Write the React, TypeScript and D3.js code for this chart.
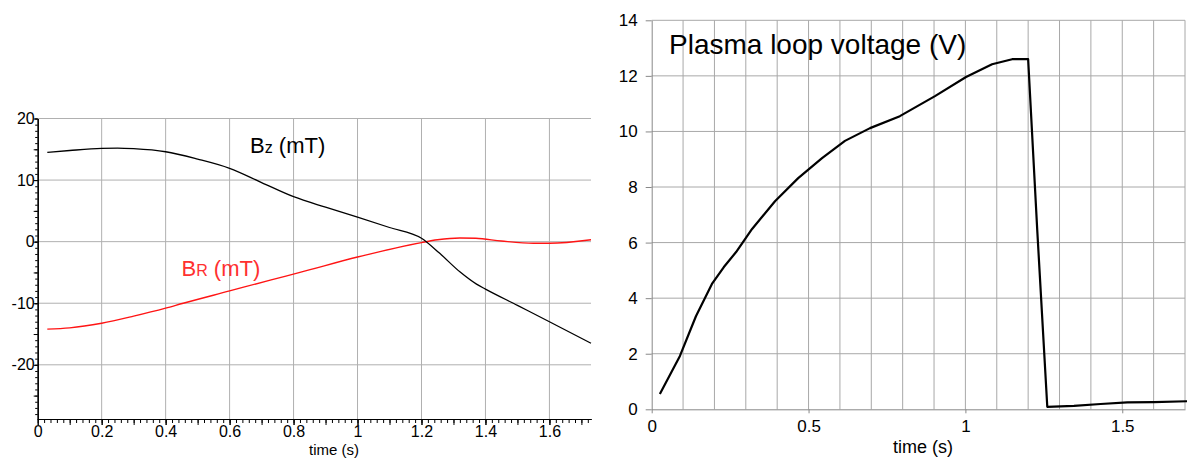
import React, { useEffect, useRef } from 'react';
import * as d3 from 'd3';

const W = 1187;
const H = 459;
const FONT = '"Liberation Sans", Arial, sans-serif';

// left panel: poloidal fields (mT) vs time (s)
const bzTime = [0.03, 0.1, 0.2, 0.25, 0.3, 0.4, 0.5, 0.6, 0.7, 0.8, 0.9, 1.0, 1.1, 1.2, 1.257, 1.32, 1.372, 1.4, 1.5, 1.6, 1.73];
const bzVal = [14.5, 14.8, 15.15, 15.2, 15.1, 14.6, 13.4, 11.9, 9.6, 7.3, 5.6, 4.0, 2.3, 0.55, -1.9, -4.9, -6.9, -7.7, -10.35, -13.0, -16.5];
const brTime = [0.03, 0.1, 0.2, 0.3, 0.4, 0.455, 0.6, 0.73, 0.82, 1.0, 1.2, 1.25, 1.32, 1.37, 1.45, 1.55, 1.6, 1.73];
const brVal = [-14.2, -14.0, -13.25, -12.1, -10.8, -10.0, -8.0, -6.2, -5.0, -2.5, -0.15, 0.3, 0.6, 0.55, 0.1, -0.27, -0.27, 0.3];
const leftXTicks = [0, 0.2, 0.4, 0.6, 0.8, 1, 1.2, 1.4, 1.6];
const leftYTicks = [-20, -10, 0, 10, 20];

// right panel: plasma loop voltage (V) vs time (s)
const vTime = [0.026, 0.09, 0.141, 0.192, 0.23, 0.269, 0.32, 0.393, 0.467, 0.543, 0.616, 0.696, 0.791, 0.903, 1.002, 1.085, 1.149, 1.2, 1.229, 1.261, 1.346, 1.431, 1.516, 1.601, 1.707];
const vVal = [0.55, 1.92, 3.35, 4.51, 5.12, 5.66, 6.49, 7.49, 8.32, 9.04, 9.66, 10.12, 10.55, 11.27, 11.96, 12.42, 12.6, 12.6, 6.45, 0.09, 0.12, 0.19, 0.25, 0.26, 0.29];
const rightXTicks = [0, 0.5, 1, 1.5];
const rightYTicks = [0, 2, 4, 6, 8, 10, 12, 14];

const fmt = (d: number) => String(+d.toFixed(1));

const App = () => {
    const ref = useRef<SVGSVGElement>(null);

    useEffect(() => {
        const svg = d3.select(ref.current);
        svg.selectAll('*').remove();

        // ---------- left chart ----------
        const x1 = d3.scaleLinear().domain([0, 1.73]).range([37.7, 591]);
        const y1 = d3.scaleLinear().domain([-28.8, 20]).range([419, 118.5]);
        const L = svg.append('g');
        const gridL = '#b0b0b0';

        L.append('g').selectAll('line')
            .data(leftXTicks.filter(d => d > 0))
            .join('line')
            .attr('x1', d => x1(d)).attr('x2', d => x1(d))
            .attr('y1', y1(20)).attr('y2', y1(-28.8))
            .attr('stroke', gridL).attr('stroke-width', 1);
        L.append('g').selectAll('line')
            .data(leftYTicks)
            .join('line')
            .attr('x1', x1(0)).attr('x2', x1(1.73))
            .attr('y1', d => y1(d)).attr('y2', d => y1(d))
            .attr('stroke', gridL).attr('stroke-width', 1);

        // x axis, minor / mid / major ticks
        const xMinor = d3.range(0, 1.7301, 0.02).map(d => +d.toFixed(2));
        const xMid = d3.range(0, 1.7301, 0.1).map(d => +d.toFixed(1));
        const xa = (vals: number[], size: number, label: boolean) => {
            const g = L.append('g').attr('transform', `translate(0,${y1(-28.8)})`)
                .call(d3.axisBottom(x1).tickValues(vals).tickSize(size).tickSizeOuter(0)
                    .tickFormat(label ? (d => fmt(+d)) : () => ''));
            g.selectAll('line').attr('stroke', '#000');
            g.select('.domain').attr('stroke', '#000');
            g.selectAll('text').attr('fill', '#000').attr('font-family', FONT)
                .attr('font-size', 16).attr('y', 7).attr('dy', '0.71em');
        };
        xa(xMinor, 4, false);
        xa(xMid, 6, false);
        xa(leftXTicks, 6, true);

        const yMinor = d3.range(-28, 20.01, 1);
        const yMid = d3.range(-25, 20.01, 5);
        const ya = (vals: number[], size: number, label: boolean) => {
            const g = L.append('g').attr('transform', `translate(${x1(0)},0)`)
                .call(d3.axisLeft(y1).tickValues(vals).tickSize(size).tickSizeOuter(0)
                    .tickFormat(label ? (d => fmt(+d)) : () => ''));
            g.selectAll('line').attr('stroke', '#000');
            g.select('.domain').attr('stroke', '#000');
            g.selectAll('text').attr('fill', '#000').attr('font-family', FONT)
                .attr('font-size', 16).attr('x', -3);
        };
        ya(yMinor, 2.5, false);
        ya(yMid, 4, false);
        ya(leftYTicks, 3, true);

        const line1 = d3.line<[number, number]>()
            .x(d => x1(d[0])).y(d => y1(d[1]))
            .curve(d3.curveMonotoneX);
        L.append('path')
            .datum(d3.zip(brTime, brVal) as [number, number][])
            .attr('d', line1).attr('fill', 'none')
            .attr('stroke', '#ff1414').attr('stroke-width', 1.4);
        L.append('path')
            .datum(d3.zip(bzTime, bzVal) as [number, number][])
            .attr('d', line1).attr('fill', 'none')
            .attr('stroke', '#000').attr('stroke-width', 1.3);

        const bz = L.append('text').attr('x', 250).attr('y', 153)
            .attr('font-family', FONT).attr('font-size', 22).attr('fill', '#000');
        bz.append('tspan').text('B');
        bz.append('tspan').attr('font-size', 16).text('z');
        bz.append('tspan').text(' (mT)');

        const br = L.append('text').attr('x', 181.5).attr('y', 276)
            .attr('font-family', FONT).attr('font-size', 22).attr('fill', '#ff3030');
        br.append('tspan').text('B');
        br.append('tspan').attr('font-size', 16).text('R');
        br.append('tspan').text(' (mT)');

        L.append('text').attr('x', 334).attr('y', 455)
            .attr('text-anchor', 'middle')
            .attr('font-family', FONT).attr('font-size', 15).text('time (s)');

        // ---------- right chart ----------
        const x2 = d3.scaleLinear().domain([0, 1.7]).range([651.7, 1185]);
        const y2 = d3.scaleLinear().domain([0, 14]).range([409.3, 20.3]);
        const R = svg.append('g');
        const gridR = '#a8a8a8';

        R.append('g').selectAll('line')
            .data(d3.range(1, 18).map(i => i / 10))
            .join('line')
            .attr('x1', d => x2(d)).attr('x2', d => x2(d))
            .attr('y1', y2(14)).attr('y2', y2(0))
            .attr('stroke', gridR).attr('stroke-width', 1);
        R.append('g').selectAll('line')
            .data(rightYTicks.filter(d => d > 0))
            .join('line')
            .attr('x1', x2(0)).attr('x2', x2(1.7))
            .attr('y1', d => y2(d)).attr('y2', d => y2(d))
            .attr('stroke', gridR).attr('stroke-width', 1);

        const gx = R.append('g').attr('transform', `translate(0,${y2(0)})`)
            .call(d3.axisBottom(x2).tickValues(rightXTicks).tickSize(4).tickSizeOuter(0).tickFormat(d => fmt(+d)));
        gx.selectAll('line').attr('stroke', '#888');
        gx.select('.domain').attr('stroke', '#888');
        gx.selectAll('text').attr('fill', '#000').attr('font-family', FONT)
            .attr('font-size', 17).attr('y', 11).attr('dy', '0.71em');

        const gy = R.append('g').attr('transform', `translate(${x2(0)},0)`)
            .call(d3.axisLeft(y2).tickValues(rightYTicks).tickSize(6).tickSizeOuter(0).tickFormat(d => fmt(+d)));
        gy.selectAll('line').attr('stroke', '#888');
        gy.select('.domain').attr('stroke', '#888');
        gy.selectAll('text').attr('fill', '#000').attr('font-family', FONT)
            .attr('font-size', 17).attr('x', -14);

        // sampled signal: straight segments between samples
        const line2 = d3.line<[number, number]>()
            .x(d => x2(d[0])).y(d => y2(d[1]));
        R.append('path')
            .datum(d3.zip(vTime, vVal) as [number, number][])
            .attr('d', line2).attr('fill', 'none')
            .attr('stroke', '#000').attr('stroke-width', 2.2)
            .attr('stroke-linejoin', 'round');

        R.append('text').attr('x', 669).attr('y', 54)
            .attr('font-family', FONT).attr('font-size', 28).text('Plasma loop voltage (V)');
        R.append('text').attr('x', 923).attr('y', 453)
            .attr('text-anchor', 'middle')
            .attr('font-family', FONT).attr('font-size', 18).text('time (s)');
    }, []);

    return (
        <svg ref={ref} width={W} height={H}
            style={{ position: 'absolute', left: 0, top: 0, background: '#fff' }} />
    );
};

export default App;
